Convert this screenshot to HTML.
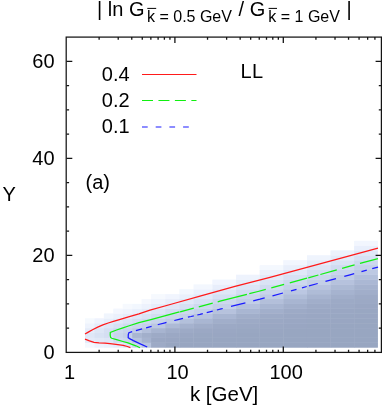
<!DOCTYPE html>
<html lang="en">
<head>
<meta charset="utf-8">
<title>| ln G ratio | contour map</title>
<style>
html, body { margin: 0; padding: 0; background: #ffffff; }
body { width: 382px; height: 406px; overflow: hidden; font-family: "Liberation Sans", sans-serif; }
svg { display: block; }
</style>
</head>
<body>
<svg width="382" height="406" viewBox="0 0 382 406" role="img" aria-label="Contour and heat map of | ln G ratio | in the (k, Y) plane">
<defs><filter id="gs" x="0" y="0" width="382" height="406" filterUnits="userSpaceOnUse"><feOffset dx="0" dy="0"/></filter></defs>
<rect width="382" height="406" fill="#fff"/>
<g id="heat-under" opacity="0.75">
<rect x="85.00" y="342.70" width="10.25" height="4.85" fill="rgb(244,248,254)"/>
<rect x="85.00" y="337.85" width="10.25" height="5.65" fill="rgb(227,234,249)"/>
<rect x="85.00" y="333.00" width="10.25" height="5.65" fill="rgb(223,231,247)"/>
<rect x="85.00" y="328.15" width="10.25" height="5.65" fill="rgb(229,236,250)"/>
<rect x="85.00" y="323.30" width="10.25" height="5.65" fill="rgb(238,243,253)"/>
<rect x="85.00" y="318.45" width="10.25" height="5.65" fill="rgb(245,249,254)"/>
<rect x="94.45" y="342.70" width="10.25" height="4.85" fill="rgb(237,242,253)"/>
<rect x="94.45" y="337.85" width="10.25" height="5.65" fill="rgb(224,232,247)"/>
<rect x="94.45" y="333.00" width="10.25" height="5.65" fill="rgb(216,226,244)"/>
<rect x="94.45" y="328.15" width="10.25" height="5.65" fill="rgb(221,230,246)"/>
<rect x="94.45" y="323.30" width="10.25" height="5.65" fill="rgb(229,236,250)"/>
<rect x="94.45" y="318.45" width="10.25" height="5.65" fill="rgb(238,243,253)"/>
<rect x="103.89" y="342.70" width="10.25" height="4.85" fill="rgb(234,240,252)"/>
<rect x="103.89" y="337.85" width="10.25" height="5.65" fill="rgb(221,230,247)"/>
<rect x="103.89" y="333.00" width="10.25" height="5.65" fill="rgb(212,222,242)"/>
<rect x="103.89" y="328.15" width="10.25" height="5.65" fill="rgb(213,223,243)"/>
<rect x="103.89" y="323.30" width="10.25" height="5.65" fill="rgb(222,231,247)"/>
<rect x="103.89" y="318.45" width="10.25" height="5.65" fill="rgb(231,238,251)"/>
<rect x="103.89" y="313.60" width="10.25" height="5.65" fill="rgb(240,245,253)"/>
<rect x="113.34" y="342.70" width="10.25" height="4.85" fill="rgb(229,236,250)"/>
<rect x="113.34" y="337.85" width="10.25" height="5.65" fill="rgb(207,218,239)"/>
<rect x="113.34" y="333.00" width="10.25" height="5.65" fill="rgb(201,213,236)"/>
<rect x="113.34" y="328.15" width="10.25" height="5.65" fill="rgb(205,216,238)"/>
<rect x="113.34" y="323.30" width="10.25" height="5.65" fill="rgb(215,225,244)"/>
<rect x="113.34" y="318.45" width="10.25" height="5.65" fill="rgb(226,233,248)"/>
<rect x="113.34" y="313.60" width="10.25" height="5.65" fill="rgb(235,241,252)"/>
<rect x="113.34" y="308.75" width="10.25" height="5.65" fill="rgb(243,247,254)"/>
<rect x="122.79" y="342.70" width="10.25" height="4.85" fill="rgb(220,229,246)"/>
<rect x="122.79" y="337.85" width="10.25" height="5.65" fill="rgb(202,214,236)"/>
<rect x="122.79" y="333.00" width="10.25" height="5.65" fill="rgb(195,207,231)"/>
<rect x="122.79" y="328.15" width="10.25" height="5.65" fill="rgb(200,211,235)"/>
<rect x="122.79" y="323.30" width="10.25" height="5.65" fill="rgb(208,219,240)"/>
<rect x="122.79" y="318.45" width="10.25" height="5.65" fill="rgb(219,228,246)"/>
<rect x="122.79" y="313.60" width="10.25" height="5.65" fill="rgb(230,237,250)"/>
<rect x="122.79" y="308.75" width="10.25" height="5.65" fill="rgb(239,244,253)"/>
<rect x="122.79" y="303.90" width="10.25" height="5.65" fill="rgb(246,249,254)"/>
<rect x="132.23" y="342.70" width="10.25" height="4.85" fill="rgb(202,214,236)"/>
<rect x="132.23" y="337.85" width="10.25" height="5.65" fill="rgb(182,194,221)"/>
<rect x="132.23" y="333.00" width="10.25" height="5.65" fill="rgb(169,182,210)"/>
<rect x="132.23" y="328.15" width="10.25" height="5.65" fill="rgb(191,203,229)"/>
<rect x="132.23" y="323.30" width="10.25" height="5.65" fill="rgb(202,213,236)"/>
<rect x="132.23" y="318.45" width="10.25" height="5.65" fill="rgb(212,223,242)"/>
<rect x="132.23" y="313.60" width="10.25" height="5.65" fill="rgb(224,232,248)"/>
<rect x="132.23" y="308.75" width="10.25" height="5.65" fill="rgb(233,240,252)"/>
<rect x="132.23" y="303.90" width="10.25" height="5.65" fill="rgb(242,247,254)"/>
<rect x="141.68" y="342.70" width="10.25" height="4.85" fill="rgb(185,197,223)"/>
<rect x="141.68" y="337.85" width="10.25" height="5.65" fill="rgb(166,179,207)"/>
<rect x="141.68" y="333.00" width="10.25" height="5.65" fill="rgb(162,175,203)"/>
<rect x="141.68" y="328.15" width="10.25" height="5.65" fill="rgb(179,191,218)"/>
<rect x="141.68" y="323.30" width="10.25" height="5.65" fill="rgb(197,209,233)"/>
<rect x="141.68" y="318.45" width="10.25" height="5.65" fill="rgb(206,217,239)"/>
<rect x="141.68" y="313.60" width="10.25" height="5.65" fill="rgb(217,227,245)"/>
<rect x="141.68" y="308.75" width="10.25" height="5.65" fill="rgb(228,235,249)"/>
<rect x="141.68" y="303.90" width="10.25" height="5.65" fill="rgb(237,242,253)"/>
<rect x="141.68" y="299.05" width="10.25" height="5.65" fill="rgb(245,248,254)"/>
<rect x="151.12" y="342.70" width="14.97" height="4.85" fill="rgb(157,170,198)"/>
<rect x="151.12" y="337.85" width="14.97" height="5.65" fill="rgb(154,167,195)"/>
<rect x="151.12" y="333.00" width="14.97" height="5.65" fill="rgb(157,170,198)"/>
<rect x="151.12" y="328.15" width="14.97" height="5.65" fill="rgb(167,180,208)"/>
<rect x="151.12" y="323.30" width="14.97" height="5.65" fill="rgb(187,199,225)"/>
<rect x="151.12" y="318.45" width="14.97" height="5.65" fill="rgb(200,212,235)"/>
<rect x="151.12" y="313.60" width="14.97" height="5.65" fill="rgb(210,221,241)"/>
<rect x="151.12" y="308.75" width="14.97" height="5.65" fill="rgb(221,229,246)"/>
<rect x="151.12" y="303.90" width="14.97" height="5.65" fill="rgb(230,237,250)"/>
<rect x="151.12" y="299.05" width="14.97" height="5.65" fill="rgb(239,244,253)"/>
<rect x="151.12" y="294.20" width="14.97" height="5.65" fill="rgb(246,249,254)"/>
<rect x="165.29" y="342.70" width="14.97" height="4.85" fill="rgb(152,166,193)"/>
<rect x="165.29" y="337.85" width="14.97" height="5.65" fill="rgb(153,166,194)"/>
<rect x="165.29" y="333.00" width="14.97" height="5.65" fill="rgb(155,168,196)"/>
<rect x="165.29" y="328.15" width="14.97" height="5.65" fill="rgb(160,173,201)"/>
<rect x="165.29" y="323.30" width="14.97" height="5.65" fill="rgb(173,186,213)"/>
<rect x="165.29" y="318.45" width="14.97" height="5.65" fill="rgb(193,205,230)"/>
<rect x="165.29" y="313.60" width="14.97" height="5.65" fill="rgb(202,214,236)"/>
<rect x="165.29" y="308.75" width="14.97" height="5.65" fill="rgb(212,222,242)"/>
<rect x="165.29" y="303.90" width="14.97" height="5.65" fill="rgb(223,231,247)"/>
<rect x="165.29" y="299.05" width="14.97" height="5.65" fill="rgb(232,238,251)"/>
<rect x="165.29" y="294.20" width="14.97" height="5.65" fill="rgb(241,245,254)"/>
<rect x="179.46" y="342.70" width="14.97" height="4.85" fill="rgb(152,166,193)"/>
<rect x="179.46" y="337.85" width="14.97" height="5.65" fill="rgb(152,166,193)"/>
<rect x="179.46" y="333.00" width="14.97" height="5.65" fill="rgb(154,167,195)"/>
<rect x="179.46" y="328.15" width="14.97" height="5.65" fill="rgb(157,170,198)"/>
<rect x="179.46" y="323.30" width="14.97" height="5.65" fill="rgb(165,178,206)"/>
<rect x="179.46" y="318.45" width="14.97" height="5.65" fill="rgb(179,192,219)"/>
<rect x="179.46" y="313.60" width="14.97" height="5.65" fill="rgb(196,208,232)"/>
<rect x="179.46" y="308.75" width="14.97" height="5.65" fill="rgb(204,215,238)"/>
<rect x="179.46" y="303.90" width="14.97" height="5.65" fill="rgb(214,224,244)"/>
<rect x="179.46" y="299.05" width="14.97" height="5.65" fill="rgb(224,232,248)"/>
<rect x="179.46" y="294.20" width="14.97" height="5.65" fill="rgb(233,240,252)"/>
<rect x="179.46" y="289.35" width="14.97" height="5.65" fill="rgb(242,247,254)"/>
<rect x="193.63" y="342.70" width="19.69" height="4.85" fill="rgb(152,166,193)"/>
<rect x="193.63" y="337.85" width="19.69" height="5.65" fill="rgb(152,166,193)"/>
<rect x="193.63" y="333.00" width="19.69" height="5.65" fill="rgb(153,167,194)"/>
<rect x="193.63" y="328.15" width="19.69" height="5.65" fill="rgb(155,168,196)"/>
<rect x="193.63" y="323.30" width="19.69" height="5.65" fill="rgb(160,173,201)"/>
<rect x="193.63" y="318.45" width="19.69" height="5.65" fill="rgb(169,182,210)"/>
<rect x="193.63" y="313.60" width="19.69" height="5.65" fill="rgb(183,195,222)"/>
<rect x="193.63" y="308.75" width="19.69" height="5.65" fill="rgb(197,209,233)"/>
<rect x="193.63" y="303.90" width="19.69" height="5.65" fill="rgb(205,216,238)"/>
<rect x="193.63" y="299.05" width="19.69" height="5.65" fill="rgb(215,225,244)"/>
<rect x="193.63" y="294.20" width="19.69" height="5.65" fill="rgb(225,233,248)"/>
<rect x="193.63" y="289.35" width="19.69" height="5.65" fill="rgb(234,240,252)"/>
<rect x="193.63" y="284.50" width="19.69" height="5.65" fill="rgb(243,247,254)"/>
<rect x="212.52" y="342.70" width="24.42" height="4.85" fill="rgb(152,166,193)"/>
<rect x="212.52" y="337.85" width="24.42" height="5.65" fill="rgb(152,166,193)"/>
<rect x="212.52" y="333.00" width="24.42" height="5.65" fill="rgb(153,166,194)"/>
<rect x="212.52" y="328.15" width="24.42" height="5.65" fill="rgb(154,167,195)"/>
<rect x="212.52" y="323.30" width="24.42" height="5.65" fill="rgb(156,169,197)"/>
<rect x="212.52" y="318.45" width="24.42" height="5.65" fill="rgb(161,174,202)"/>
<rect x="212.52" y="313.60" width="24.42" height="5.65" fill="rgb(169,182,210)"/>
<rect x="212.52" y="308.75" width="24.42" height="5.65" fill="rgb(182,194,221)"/>
<rect x="212.52" y="303.90" width="24.42" height="5.65" fill="rgb(196,208,232)"/>
<rect x="212.52" y="299.05" width="24.42" height="5.65" fill="rgb(204,215,237)"/>
<rect x="212.52" y="294.20" width="24.42" height="5.65" fill="rgb(213,224,243)"/>
<rect x="212.52" y="289.35" width="24.42" height="5.65" fill="rgb(223,231,247)"/>
<rect x="212.52" y="284.50" width="24.42" height="5.65" fill="rgb(232,238,251)"/>
<rect x="212.52" y="279.65" width="24.42" height="5.65" fill="rgb(241,245,254)"/>
<rect x="236.14" y="342.70" width="24.42" height="4.85" fill="rgb(152,166,193)"/>
<rect x="236.14" y="337.85" width="24.42" height="5.65" fill="rgb(152,166,193)"/>
<rect x="236.14" y="333.00" width="24.42" height="5.65" fill="rgb(152,166,193)"/>
<rect x="236.14" y="328.15" width="24.42" height="5.65" fill="rgb(153,167,194)"/>
<rect x="236.14" y="323.30" width="24.42" height="5.65" fill="rgb(155,168,196)"/>
<rect x="236.14" y="318.45" width="24.42" height="5.65" fill="rgb(157,170,198)"/>
<rect x="236.14" y="313.60" width="24.42" height="5.65" fill="rgb(161,174,202)"/>
<rect x="236.14" y="308.75" width="24.42" height="5.65" fill="rgb(169,182,210)"/>
<rect x="236.14" y="303.90" width="24.42" height="5.65" fill="rgb(181,193,220)"/>
<rect x="236.14" y="299.05" width="24.42" height="5.65" fill="rgb(194,206,231)"/>
<rect x="236.14" y="294.20" width="24.42" height="5.65" fill="rgb(202,213,236)"/>
<rect x="236.14" y="289.35" width="24.42" height="5.65" fill="rgb(211,221,242)"/>
<rect x="236.14" y="284.50" width="24.42" height="5.65" fill="rgb(220,229,246)"/>
<rect x="236.14" y="279.65" width="24.42" height="5.65" fill="rgb(229,236,250)"/>
<rect x="236.14" y="274.80" width="24.42" height="5.65" fill="rgb(238,243,253)"/>
<rect x="259.75" y="342.70" width="24.42" height="4.85" fill="rgb(152,166,193)"/>
<rect x="259.75" y="337.85" width="24.42" height="5.65" fill="rgb(152,166,193)"/>
<rect x="259.75" y="333.00" width="24.42" height="5.65" fill="rgb(152,166,193)"/>
<rect x="259.75" y="328.15" width="24.42" height="5.65" fill="rgb(153,166,194)"/>
<rect x="259.75" y="323.30" width="24.42" height="5.65" fill="rgb(154,167,195)"/>
<rect x="259.75" y="318.45" width="24.42" height="5.65" fill="rgb(155,168,196)"/>
<rect x="259.75" y="313.60" width="24.42" height="5.65" fill="rgb(157,170,198)"/>
<rect x="259.75" y="308.75" width="24.42" height="5.65" fill="rgb(162,175,203)"/>
<rect x="259.75" y="303.90" width="24.42" height="5.65" fill="rgb(169,182,210)"/>
<rect x="259.75" y="299.05" width="24.42" height="5.65" fill="rgb(179,191,218)"/>
<rect x="259.75" y="294.20" width="24.42" height="5.65" fill="rgb(191,203,229)"/>
<rect x="259.75" y="289.35" width="24.42" height="5.65" fill="rgb(200,212,235)"/>
<rect x="259.75" y="284.50" width="24.42" height="5.65" fill="rgb(208,219,240)"/>
<rect x="259.75" y="279.65" width="24.42" height="5.65" fill="rgb(218,227,245)"/>
<rect x="259.75" y="274.80" width="24.42" height="5.65" fill="rgb(227,234,249)"/>
<rect x="259.75" y="269.95" width="24.42" height="5.65" fill="rgb(236,241,252)"/>
<rect x="259.75" y="265.10" width="24.42" height="5.65" fill="rgb(244,248,254)"/>
<rect x="283.37" y="342.70" width="24.41" height="4.85" fill="rgb(152,166,193)"/>
<rect x="283.37" y="337.85" width="24.41" height="5.65" fill="rgb(152,166,193)"/>
<rect x="283.37" y="333.00" width="24.41" height="5.65" fill="rgb(152,166,193)"/>
<rect x="283.37" y="328.15" width="24.41" height="5.65" fill="rgb(152,166,193)"/>
<rect x="283.37" y="323.30" width="24.41" height="5.65" fill="rgb(153,166,194)"/>
<rect x="283.37" y="318.45" width="24.41" height="5.65" fill="rgb(154,167,195)"/>
<rect x="283.37" y="313.60" width="24.41" height="5.65" fill="rgb(155,168,196)"/>
<rect x="283.37" y="308.75" width="24.41" height="5.65" fill="rgb(157,170,198)"/>
<rect x="283.37" y="303.90" width="24.41" height="5.65" fill="rgb(162,175,203)"/>
<rect x="283.37" y="299.05" width="24.41" height="5.65" fill="rgb(168,181,209)"/>
<rect x="283.37" y="294.20" width="24.41" height="5.65" fill="rgb(177,190,217)"/>
<rect x="283.37" y="289.35" width="24.41" height="5.65" fill="rgb(187,199,226)"/>
<rect x="283.37" y="284.50" width="24.41" height="5.65" fill="rgb(197,209,233)"/>
<rect x="283.37" y="279.65" width="24.41" height="5.65" fill="rgb(205,216,238)"/>
<rect x="283.37" y="274.80" width="24.41" height="5.65" fill="rgb(215,225,244)"/>
<rect x="283.37" y="269.95" width="24.41" height="5.65" fill="rgb(224,232,248)"/>
<rect x="283.37" y="265.10" width="24.41" height="5.65" fill="rgb(233,239,251)"/>
<rect x="283.37" y="260.25" width="24.41" height="5.65" fill="rgb(242,246,254)"/>
<rect x="306.98" y="342.70" width="24.42" height="4.85" fill="rgb(152,166,193)"/>
<rect x="306.98" y="337.85" width="24.42" height="5.65" fill="rgb(152,166,193)"/>
<rect x="306.98" y="333.00" width="24.42" height="5.65" fill="rgb(152,166,193)"/>
<rect x="306.98" y="328.15" width="24.42" height="5.65" fill="rgb(152,166,193)"/>
<rect x="306.98" y="323.30" width="24.42" height="5.65" fill="rgb(152,166,193)"/>
<rect x="306.98" y="318.45" width="24.42" height="5.65" fill="rgb(153,167,194)"/>
<rect x="306.98" y="313.60" width="24.42" height="5.65" fill="rgb(154,167,195)"/>
<rect x="306.98" y="308.75" width="24.42" height="5.65" fill="rgb(155,168,196)"/>
<rect x="306.98" y="303.90" width="24.42" height="5.65" fill="rgb(157,170,198)"/>
<rect x="306.98" y="299.05" width="24.42" height="5.65" fill="rgb(161,174,202)"/>
<rect x="306.98" y="294.20" width="24.42" height="5.65" fill="rgb(167,180,208)"/>
<rect x="306.98" y="289.35" width="24.42" height="5.65" fill="rgb(175,188,215)"/>
<rect x="306.98" y="284.50" width="24.42" height="5.65" fill="rgb(184,196,223)"/>
<rect x="306.98" y="279.65" width="24.42" height="5.65" fill="rgb(195,207,231)"/>
<rect x="306.98" y="274.80" width="24.42" height="5.65" fill="rgb(203,214,237)"/>
<rect x="306.98" y="269.95" width="24.42" height="5.65" fill="rgb(212,222,242)"/>
<rect x="306.98" y="265.10" width="24.42" height="5.65" fill="rgb(221,230,246)"/>
<rect x="306.98" y="260.25" width="24.42" height="5.65" fill="rgb(230,237,250)"/>
<rect x="306.98" y="255.40" width="24.42" height="5.65" fill="rgb(239,244,253)"/>
<rect x="330.60" y="342.70" width="24.42" height="4.85" fill="rgb(152,166,193)"/>
<rect x="330.60" y="337.85" width="24.42" height="5.65" fill="rgb(152,166,193)"/>
<rect x="330.60" y="333.00" width="24.42" height="5.65" fill="rgb(152,166,193)"/>
<rect x="330.60" y="328.15" width="24.42" height="5.65" fill="rgb(152,166,193)"/>
<rect x="330.60" y="323.30" width="24.42" height="5.65" fill="rgb(152,166,193)"/>
<rect x="330.60" y="318.45" width="24.42" height="5.65" fill="rgb(153,166,194)"/>
<rect x="330.60" y="313.60" width="24.42" height="5.65" fill="rgb(153,167,194)"/>
<rect x="330.60" y="308.75" width="24.42" height="5.65" fill="rgb(154,167,195)"/>
<rect x="330.60" y="303.90" width="24.42" height="5.65" fill="rgb(156,169,197)"/>
<rect x="330.60" y="299.05" width="24.42" height="5.65" fill="rgb(157,170,198)"/>
<rect x="330.60" y="294.20" width="24.42" height="5.65" fill="rgb(161,174,202)"/>
<rect x="330.60" y="289.35" width="24.42" height="5.65" fill="rgb(166,179,207)"/>
<rect x="330.60" y="284.50" width="24.42" height="5.65" fill="rgb(173,186,213)"/>
<rect x="330.60" y="279.65" width="24.42" height="5.65" fill="rgb(182,194,221)"/>
<rect x="330.60" y="274.80" width="24.42" height="5.65" fill="rgb(192,204,229)"/>
<rect x="330.60" y="269.95" width="24.42" height="5.65" fill="rgb(200,212,235)"/>
<rect x="330.60" y="265.10" width="24.42" height="5.65" fill="rgb(208,219,240)"/>
<rect x="330.60" y="260.25" width="24.42" height="5.65" fill="rgb(218,227,245)"/>
<rect x="330.60" y="255.40" width="24.42" height="5.65" fill="rgb(227,235,249)"/>
<rect x="330.60" y="250.55" width="24.42" height="5.65" fill="rgb(236,242,252)"/>
<rect x="354.21" y="342.70" width="23.62" height="4.85" fill="rgb(152,166,193)"/>
<rect x="354.21" y="337.85" width="23.62" height="5.65" fill="rgb(152,166,193)"/>
<rect x="354.21" y="333.00" width="23.62" height="5.65" fill="rgb(152,166,193)"/>
<rect x="354.21" y="328.15" width="23.62" height="5.65" fill="rgb(152,166,193)"/>
<rect x="354.21" y="323.30" width="23.62" height="5.65" fill="rgb(152,166,193)"/>
<rect x="354.21" y="318.45" width="23.62" height="5.65" fill="rgb(152,166,193)"/>
<rect x="354.21" y="313.60" width="23.62" height="5.65" fill="rgb(153,166,194)"/>
<rect x="354.21" y="308.75" width="23.62" height="5.65" fill="rgb(153,167,194)"/>
<rect x="354.21" y="303.90" width="23.62" height="5.65" fill="rgb(154,167,195)"/>
<rect x="354.21" y="299.05" width="23.62" height="5.65" fill="rgb(156,169,197)"/>
<rect x="354.21" y="294.20" width="23.62" height="5.65" fill="rgb(157,170,198)"/>
<rect x="354.21" y="289.35" width="23.62" height="5.65" fill="rgb(161,174,202)"/>
<rect x="354.21" y="284.50" width="23.62" height="5.65" fill="rgb(165,178,206)"/>
<rect x="354.21" y="279.65" width="23.62" height="5.65" fill="rgb(171,184,212)"/>
<rect x="354.21" y="274.80" width="23.62" height="5.65" fill="rgb(179,192,219)"/>
<rect x="354.21" y="269.95" width="23.62" height="5.65" fill="rgb(189,201,227)"/>
<rect x="354.21" y="265.10" width="23.62" height="5.65" fill="rgb(197,209,233)"/>
<rect x="354.21" y="260.25" width="23.62" height="5.65" fill="rgb(205,216,238)"/>
<rect x="354.21" y="255.40" width="23.62" height="5.65" fill="rgb(215,225,244)"/>
<rect x="354.21" y="250.55" width="23.62" height="5.65" fill="rgb(224,232,248)"/>
<rect x="354.21" y="245.70" width="23.62" height="5.65" fill="rgb(233,239,252)"/>
<rect x="354.21" y="240.85" width="23.62" height="5.65" fill="rgb(242,246,254)"/>
</g>
<g id="heat">
<rect x="85.00" y="342.70" width="9.45" height="4.85" fill="rgb(244,248,254)"/>
<rect x="85.00" y="337.85" width="9.45" height="4.85" fill="rgb(227,234,249)"/>
<rect x="85.00" y="333.00" width="9.45" height="4.85" fill="rgb(223,231,247)"/>
<rect x="85.00" y="328.15" width="9.45" height="4.85" fill="rgb(229,236,250)"/>
<rect x="85.00" y="323.30" width="9.45" height="4.85" fill="rgb(238,243,253)"/>
<rect x="85.00" y="318.45" width="9.45" height="4.85" fill="rgb(245,249,254)"/>
<rect x="94.45" y="342.70" width="9.45" height="4.85" fill="rgb(237,242,253)"/>
<rect x="94.45" y="337.85" width="9.45" height="4.85" fill="rgb(224,232,247)"/>
<rect x="94.45" y="333.00" width="9.45" height="4.85" fill="rgb(216,226,244)"/>
<rect x="94.45" y="328.15" width="9.45" height="4.85" fill="rgb(221,230,246)"/>
<rect x="94.45" y="323.30" width="9.45" height="4.85" fill="rgb(229,236,250)"/>
<rect x="94.45" y="318.45" width="9.45" height="4.85" fill="rgb(238,243,253)"/>
<rect x="103.89" y="342.70" width="9.45" height="4.85" fill="rgb(234,240,252)"/>
<rect x="103.89" y="337.85" width="9.45" height="4.85" fill="rgb(221,230,247)"/>
<rect x="103.89" y="333.00" width="9.45" height="4.85" fill="rgb(212,222,242)"/>
<rect x="103.89" y="328.15" width="9.45" height="4.85" fill="rgb(213,223,243)"/>
<rect x="103.89" y="323.30" width="9.45" height="4.85" fill="rgb(222,231,247)"/>
<rect x="103.89" y="318.45" width="9.45" height="4.85" fill="rgb(231,238,251)"/>
<rect x="103.89" y="313.60" width="9.45" height="4.85" fill="rgb(240,245,253)"/>
<rect x="113.34" y="342.70" width="9.45" height="4.85" fill="rgb(229,236,250)"/>
<rect x="113.34" y="337.85" width="9.45" height="4.85" fill="rgb(207,218,239)"/>
<rect x="113.34" y="333.00" width="9.45" height="4.85" fill="rgb(201,213,236)"/>
<rect x="113.34" y="328.15" width="9.45" height="4.85" fill="rgb(205,216,238)"/>
<rect x="113.34" y="323.30" width="9.45" height="4.85" fill="rgb(215,225,244)"/>
<rect x="113.34" y="318.45" width="9.45" height="4.85" fill="rgb(226,233,248)"/>
<rect x="113.34" y="313.60" width="9.45" height="4.85" fill="rgb(235,241,252)"/>
<rect x="113.34" y="308.75" width="9.45" height="4.85" fill="rgb(243,247,254)"/>
<rect x="122.79" y="342.70" width="9.45" height="4.85" fill="rgb(220,229,246)"/>
<rect x="122.79" y="337.85" width="9.45" height="4.85" fill="rgb(202,214,236)"/>
<rect x="122.79" y="333.00" width="9.45" height="4.85" fill="rgb(195,207,231)"/>
<rect x="122.79" y="328.15" width="9.45" height="4.85" fill="rgb(200,211,235)"/>
<rect x="122.79" y="323.30" width="9.45" height="4.85" fill="rgb(208,219,240)"/>
<rect x="122.79" y="318.45" width="9.45" height="4.85" fill="rgb(219,228,246)"/>
<rect x="122.79" y="313.60" width="9.45" height="4.85" fill="rgb(230,237,250)"/>
<rect x="122.79" y="308.75" width="9.45" height="4.85" fill="rgb(239,244,253)"/>
<rect x="122.79" y="303.90" width="9.45" height="4.85" fill="rgb(246,249,254)"/>
<rect x="132.23" y="342.70" width="9.45" height="4.85" fill="rgb(202,214,236)"/>
<rect x="132.23" y="337.85" width="9.45" height="4.85" fill="rgb(182,194,221)"/>
<rect x="132.23" y="333.00" width="9.45" height="4.85" fill="rgb(169,182,210)"/>
<rect x="132.23" y="328.15" width="9.45" height="4.85" fill="rgb(191,203,229)"/>
<rect x="132.23" y="323.30" width="9.45" height="4.85" fill="rgb(202,213,236)"/>
<rect x="132.23" y="318.45" width="9.45" height="4.85" fill="rgb(212,223,242)"/>
<rect x="132.23" y="313.60" width="9.45" height="4.85" fill="rgb(224,232,248)"/>
<rect x="132.23" y="308.75" width="9.45" height="4.85" fill="rgb(233,240,252)"/>
<rect x="132.23" y="303.90" width="9.45" height="4.85" fill="rgb(242,247,254)"/>
<rect x="141.68" y="342.70" width="9.45" height="4.85" fill="rgb(185,197,223)"/>
<rect x="141.68" y="337.85" width="9.45" height="4.85" fill="rgb(166,179,207)"/>
<rect x="141.68" y="333.00" width="9.45" height="4.85" fill="rgb(162,175,203)"/>
<rect x="141.68" y="328.15" width="9.45" height="4.85" fill="rgb(179,191,218)"/>
<rect x="141.68" y="323.30" width="9.45" height="4.85" fill="rgb(197,209,233)"/>
<rect x="141.68" y="318.45" width="9.45" height="4.85" fill="rgb(206,217,239)"/>
<rect x="141.68" y="313.60" width="9.45" height="4.85" fill="rgb(217,227,245)"/>
<rect x="141.68" y="308.75" width="9.45" height="4.85" fill="rgb(228,235,249)"/>
<rect x="141.68" y="303.90" width="9.45" height="4.85" fill="rgb(237,242,253)"/>
<rect x="141.68" y="299.05" width="9.45" height="4.85" fill="rgb(245,248,254)"/>
<rect x="151.12" y="342.70" width="14.17" height="4.85" fill="rgb(157,170,198)"/>
<rect x="151.12" y="337.85" width="14.17" height="4.85" fill="rgb(154,167,195)"/>
<rect x="151.12" y="333.00" width="14.17" height="4.85" fill="rgb(157,170,198)"/>
<rect x="151.12" y="328.15" width="14.17" height="4.85" fill="rgb(167,180,208)"/>
<rect x="151.12" y="323.30" width="14.17" height="4.85" fill="rgb(187,199,225)"/>
<rect x="151.12" y="318.45" width="14.17" height="4.85" fill="rgb(200,212,235)"/>
<rect x="151.12" y="313.60" width="14.17" height="4.85" fill="rgb(210,221,241)"/>
<rect x="151.12" y="308.75" width="14.17" height="4.85" fill="rgb(221,229,246)"/>
<rect x="151.12" y="303.90" width="14.17" height="4.85" fill="rgb(230,237,250)"/>
<rect x="151.12" y="299.05" width="14.17" height="4.85" fill="rgb(239,244,253)"/>
<rect x="151.12" y="294.20" width="14.17" height="4.85" fill="rgb(246,249,254)"/>
<rect x="165.29" y="342.70" width="14.17" height="4.85" fill="rgb(152,166,193)"/>
<rect x="165.29" y="337.85" width="14.17" height="4.85" fill="rgb(153,166,194)"/>
<rect x="165.29" y="333.00" width="14.17" height="4.85" fill="rgb(155,168,196)"/>
<rect x="165.29" y="328.15" width="14.17" height="4.85" fill="rgb(160,173,201)"/>
<rect x="165.29" y="323.30" width="14.17" height="4.85" fill="rgb(173,186,213)"/>
<rect x="165.29" y="318.45" width="14.17" height="4.85" fill="rgb(193,205,230)"/>
<rect x="165.29" y="313.60" width="14.17" height="4.85" fill="rgb(202,214,236)"/>
<rect x="165.29" y="308.75" width="14.17" height="4.85" fill="rgb(212,222,242)"/>
<rect x="165.29" y="303.90" width="14.17" height="4.85" fill="rgb(223,231,247)"/>
<rect x="165.29" y="299.05" width="14.17" height="4.85" fill="rgb(232,238,251)"/>
<rect x="165.29" y="294.20" width="14.17" height="4.85" fill="rgb(241,245,254)"/>
<rect x="179.46" y="342.70" width="14.17" height="4.85" fill="rgb(152,166,193)"/>
<rect x="179.46" y="337.85" width="14.17" height="4.85" fill="rgb(152,166,193)"/>
<rect x="179.46" y="333.00" width="14.17" height="4.85" fill="rgb(154,167,195)"/>
<rect x="179.46" y="328.15" width="14.17" height="4.85" fill="rgb(157,170,198)"/>
<rect x="179.46" y="323.30" width="14.17" height="4.85" fill="rgb(165,178,206)"/>
<rect x="179.46" y="318.45" width="14.17" height="4.85" fill="rgb(179,192,219)"/>
<rect x="179.46" y="313.60" width="14.17" height="4.85" fill="rgb(196,208,232)"/>
<rect x="179.46" y="308.75" width="14.17" height="4.85" fill="rgb(204,215,238)"/>
<rect x="179.46" y="303.90" width="14.17" height="4.85" fill="rgb(214,224,244)"/>
<rect x="179.46" y="299.05" width="14.17" height="4.85" fill="rgb(224,232,248)"/>
<rect x="179.46" y="294.20" width="14.17" height="4.85" fill="rgb(233,240,252)"/>
<rect x="179.46" y="289.35" width="14.17" height="4.85" fill="rgb(242,247,254)"/>
<rect x="193.63" y="342.70" width="18.89" height="4.85" fill="rgb(152,166,193)"/>
<rect x="193.63" y="337.85" width="18.89" height="4.85" fill="rgb(152,166,193)"/>
<rect x="193.63" y="333.00" width="18.89" height="4.85" fill="rgb(153,167,194)"/>
<rect x="193.63" y="328.15" width="18.89" height="4.85" fill="rgb(155,168,196)"/>
<rect x="193.63" y="323.30" width="18.89" height="4.85" fill="rgb(160,173,201)"/>
<rect x="193.63" y="318.45" width="18.89" height="4.85" fill="rgb(169,182,210)"/>
<rect x="193.63" y="313.60" width="18.89" height="4.85" fill="rgb(183,195,222)"/>
<rect x="193.63" y="308.75" width="18.89" height="4.85" fill="rgb(197,209,233)"/>
<rect x="193.63" y="303.90" width="18.89" height="4.85" fill="rgb(205,216,238)"/>
<rect x="193.63" y="299.05" width="18.89" height="4.85" fill="rgb(215,225,244)"/>
<rect x="193.63" y="294.20" width="18.89" height="4.85" fill="rgb(225,233,248)"/>
<rect x="193.63" y="289.35" width="18.89" height="4.85" fill="rgb(234,240,252)"/>
<rect x="193.63" y="284.50" width="18.89" height="4.85" fill="rgb(243,247,254)"/>
<rect x="212.52" y="342.70" width="23.62" height="4.85" fill="rgb(152,166,193)"/>
<rect x="212.52" y="337.85" width="23.62" height="4.85" fill="rgb(152,166,193)"/>
<rect x="212.52" y="333.00" width="23.62" height="4.85" fill="rgb(153,166,194)"/>
<rect x="212.52" y="328.15" width="23.62" height="4.85" fill="rgb(154,167,195)"/>
<rect x="212.52" y="323.30" width="23.62" height="4.85" fill="rgb(156,169,197)"/>
<rect x="212.52" y="318.45" width="23.62" height="4.85" fill="rgb(161,174,202)"/>
<rect x="212.52" y="313.60" width="23.62" height="4.85" fill="rgb(169,182,210)"/>
<rect x="212.52" y="308.75" width="23.62" height="4.85" fill="rgb(182,194,221)"/>
<rect x="212.52" y="303.90" width="23.62" height="4.85" fill="rgb(196,208,232)"/>
<rect x="212.52" y="299.05" width="23.62" height="4.85" fill="rgb(204,215,237)"/>
<rect x="212.52" y="294.20" width="23.62" height="4.85" fill="rgb(213,224,243)"/>
<rect x="212.52" y="289.35" width="23.62" height="4.85" fill="rgb(223,231,247)"/>
<rect x="212.52" y="284.50" width="23.62" height="4.85" fill="rgb(232,238,251)"/>
<rect x="212.52" y="279.65" width="23.62" height="4.85" fill="rgb(241,245,254)"/>
<rect x="236.14" y="342.70" width="23.62" height="4.85" fill="rgb(152,166,193)"/>
<rect x="236.14" y="337.85" width="23.62" height="4.85" fill="rgb(152,166,193)"/>
<rect x="236.14" y="333.00" width="23.62" height="4.85" fill="rgb(152,166,193)"/>
<rect x="236.14" y="328.15" width="23.62" height="4.85" fill="rgb(153,167,194)"/>
<rect x="236.14" y="323.30" width="23.62" height="4.85" fill="rgb(155,168,196)"/>
<rect x="236.14" y="318.45" width="23.62" height="4.85" fill="rgb(157,170,198)"/>
<rect x="236.14" y="313.60" width="23.62" height="4.85" fill="rgb(161,174,202)"/>
<rect x="236.14" y="308.75" width="23.62" height="4.85" fill="rgb(169,182,210)"/>
<rect x="236.14" y="303.90" width="23.62" height="4.85" fill="rgb(181,193,220)"/>
<rect x="236.14" y="299.05" width="23.62" height="4.85" fill="rgb(194,206,231)"/>
<rect x="236.14" y="294.20" width="23.62" height="4.85" fill="rgb(202,213,236)"/>
<rect x="236.14" y="289.35" width="23.62" height="4.85" fill="rgb(211,221,242)"/>
<rect x="236.14" y="284.50" width="23.62" height="4.85" fill="rgb(220,229,246)"/>
<rect x="236.14" y="279.65" width="23.62" height="4.85" fill="rgb(229,236,250)"/>
<rect x="236.14" y="274.80" width="23.62" height="4.85" fill="rgb(238,243,253)"/>
<rect x="259.75" y="342.70" width="23.62" height="4.85" fill="rgb(152,166,193)"/>
<rect x="259.75" y="337.85" width="23.62" height="4.85" fill="rgb(152,166,193)"/>
<rect x="259.75" y="333.00" width="23.62" height="4.85" fill="rgb(152,166,193)"/>
<rect x="259.75" y="328.15" width="23.62" height="4.85" fill="rgb(153,166,194)"/>
<rect x="259.75" y="323.30" width="23.62" height="4.85" fill="rgb(154,167,195)"/>
<rect x="259.75" y="318.45" width="23.62" height="4.85" fill="rgb(155,168,196)"/>
<rect x="259.75" y="313.60" width="23.62" height="4.85" fill="rgb(157,170,198)"/>
<rect x="259.75" y="308.75" width="23.62" height="4.85" fill="rgb(162,175,203)"/>
<rect x="259.75" y="303.90" width="23.62" height="4.85" fill="rgb(169,182,210)"/>
<rect x="259.75" y="299.05" width="23.62" height="4.85" fill="rgb(179,191,218)"/>
<rect x="259.75" y="294.20" width="23.62" height="4.85" fill="rgb(191,203,229)"/>
<rect x="259.75" y="289.35" width="23.62" height="4.85" fill="rgb(200,212,235)"/>
<rect x="259.75" y="284.50" width="23.62" height="4.85" fill="rgb(208,219,240)"/>
<rect x="259.75" y="279.65" width="23.62" height="4.85" fill="rgb(218,227,245)"/>
<rect x="259.75" y="274.80" width="23.62" height="4.85" fill="rgb(227,234,249)"/>
<rect x="259.75" y="269.95" width="23.62" height="4.85" fill="rgb(236,241,252)"/>
<rect x="259.75" y="265.10" width="23.62" height="4.85" fill="rgb(244,248,254)"/>
<rect x="283.37" y="342.70" width="23.61" height="4.85" fill="rgb(152,166,193)"/>
<rect x="283.37" y="337.85" width="23.61" height="4.85" fill="rgb(152,166,193)"/>
<rect x="283.37" y="333.00" width="23.61" height="4.85" fill="rgb(152,166,193)"/>
<rect x="283.37" y="328.15" width="23.61" height="4.85" fill="rgb(152,166,193)"/>
<rect x="283.37" y="323.30" width="23.61" height="4.85" fill="rgb(153,166,194)"/>
<rect x="283.37" y="318.45" width="23.61" height="4.85" fill="rgb(154,167,195)"/>
<rect x="283.37" y="313.60" width="23.61" height="4.85" fill="rgb(155,168,196)"/>
<rect x="283.37" y="308.75" width="23.61" height="4.85" fill="rgb(157,170,198)"/>
<rect x="283.37" y="303.90" width="23.61" height="4.85" fill="rgb(162,175,203)"/>
<rect x="283.37" y="299.05" width="23.61" height="4.85" fill="rgb(168,181,209)"/>
<rect x="283.37" y="294.20" width="23.61" height="4.85" fill="rgb(177,190,217)"/>
<rect x="283.37" y="289.35" width="23.61" height="4.85" fill="rgb(187,199,226)"/>
<rect x="283.37" y="284.50" width="23.61" height="4.85" fill="rgb(197,209,233)"/>
<rect x="283.37" y="279.65" width="23.61" height="4.85" fill="rgb(205,216,238)"/>
<rect x="283.37" y="274.80" width="23.61" height="4.85" fill="rgb(215,225,244)"/>
<rect x="283.37" y="269.95" width="23.61" height="4.85" fill="rgb(224,232,248)"/>
<rect x="283.37" y="265.10" width="23.61" height="4.85" fill="rgb(233,239,251)"/>
<rect x="283.37" y="260.25" width="23.61" height="4.85" fill="rgb(242,246,254)"/>
<rect x="306.98" y="342.70" width="23.62" height="4.85" fill="rgb(152,166,193)"/>
<rect x="306.98" y="337.85" width="23.62" height="4.85" fill="rgb(152,166,193)"/>
<rect x="306.98" y="333.00" width="23.62" height="4.85" fill="rgb(152,166,193)"/>
<rect x="306.98" y="328.15" width="23.62" height="4.85" fill="rgb(152,166,193)"/>
<rect x="306.98" y="323.30" width="23.62" height="4.85" fill="rgb(152,166,193)"/>
<rect x="306.98" y="318.45" width="23.62" height="4.85" fill="rgb(153,167,194)"/>
<rect x="306.98" y="313.60" width="23.62" height="4.85" fill="rgb(154,167,195)"/>
<rect x="306.98" y="308.75" width="23.62" height="4.85" fill="rgb(155,168,196)"/>
<rect x="306.98" y="303.90" width="23.62" height="4.85" fill="rgb(157,170,198)"/>
<rect x="306.98" y="299.05" width="23.62" height="4.85" fill="rgb(161,174,202)"/>
<rect x="306.98" y="294.20" width="23.62" height="4.85" fill="rgb(167,180,208)"/>
<rect x="306.98" y="289.35" width="23.62" height="4.85" fill="rgb(175,188,215)"/>
<rect x="306.98" y="284.50" width="23.62" height="4.85" fill="rgb(184,196,223)"/>
<rect x="306.98" y="279.65" width="23.62" height="4.85" fill="rgb(195,207,231)"/>
<rect x="306.98" y="274.80" width="23.62" height="4.85" fill="rgb(203,214,237)"/>
<rect x="306.98" y="269.95" width="23.62" height="4.85" fill="rgb(212,222,242)"/>
<rect x="306.98" y="265.10" width="23.62" height="4.85" fill="rgb(221,230,246)"/>
<rect x="306.98" y="260.25" width="23.62" height="4.85" fill="rgb(230,237,250)"/>
<rect x="306.98" y="255.40" width="23.62" height="4.85" fill="rgb(239,244,253)"/>
<rect x="330.60" y="342.70" width="23.62" height="4.85" fill="rgb(152,166,193)"/>
<rect x="330.60" y="337.85" width="23.62" height="4.85" fill="rgb(152,166,193)"/>
<rect x="330.60" y="333.00" width="23.62" height="4.85" fill="rgb(152,166,193)"/>
<rect x="330.60" y="328.15" width="23.62" height="4.85" fill="rgb(152,166,193)"/>
<rect x="330.60" y="323.30" width="23.62" height="4.85" fill="rgb(152,166,193)"/>
<rect x="330.60" y="318.45" width="23.62" height="4.85" fill="rgb(153,166,194)"/>
<rect x="330.60" y="313.60" width="23.62" height="4.85" fill="rgb(153,167,194)"/>
<rect x="330.60" y="308.75" width="23.62" height="4.85" fill="rgb(154,167,195)"/>
<rect x="330.60" y="303.90" width="23.62" height="4.85" fill="rgb(156,169,197)"/>
<rect x="330.60" y="299.05" width="23.62" height="4.85" fill="rgb(157,170,198)"/>
<rect x="330.60" y="294.20" width="23.62" height="4.85" fill="rgb(161,174,202)"/>
<rect x="330.60" y="289.35" width="23.62" height="4.85" fill="rgb(166,179,207)"/>
<rect x="330.60" y="284.50" width="23.62" height="4.85" fill="rgb(173,186,213)"/>
<rect x="330.60" y="279.65" width="23.62" height="4.85" fill="rgb(182,194,221)"/>
<rect x="330.60" y="274.80" width="23.62" height="4.85" fill="rgb(192,204,229)"/>
<rect x="330.60" y="269.95" width="23.62" height="4.85" fill="rgb(200,212,235)"/>
<rect x="330.60" y="265.10" width="23.62" height="4.85" fill="rgb(208,219,240)"/>
<rect x="330.60" y="260.25" width="23.62" height="4.85" fill="rgb(218,227,245)"/>
<rect x="330.60" y="255.40" width="23.62" height="4.85" fill="rgb(227,235,249)"/>
<rect x="330.60" y="250.55" width="23.62" height="4.85" fill="rgb(236,242,252)"/>
<rect x="354.21" y="342.70" width="23.62" height="4.85" fill="rgb(152,166,193)"/>
<rect x="354.21" y="337.85" width="23.62" height="4.85" fill="rgb(152,166,193)"/>
<rect x="354.21" y="333.00" width="23.62" height="4.85" fill="rgb(152,166,193)"/>
<rect x="354.21" y="328.15" width="23.62" height="4.85" fill="rgb(152,166,193)"/>
<rect x="354.21" y="323.30" width="23.62" height="4.85" fill="rgb(152,166,193)"/>
<rect x="354.21" y="318.45" width="23.62" height="4.85" fill="rgb(152,166,193)"/>
<rect x="354.21" y="313.60" width="23.62" height="4.85" fill="rgb(153,166,194)"/>
<rect x="354.21" y="308.75" width="23.62" height="4.85" fill="rgb(153,167,194)"/>
<rect x="354.21" y="303.90" width="23.62" height="4.85" fill="rgb(154,167,195)"/>
<rect x="354.21" y="299.05" width="23.62" height="4.85" fill="rgb(156,169,197)"/>
<rect x="354.21" y="294.20" width="23.62" height="4.85" fill="rgb(157,170,198)"/>
<rect x="354.21" y="289.35" width="23.62" height="4.85" fill="rgb(161,174,202)"/>
<rect x="354.21" y="284.50" width="23.62" height="4.85" fill="rgb(165,178,206)"/>
<rect x="354.21" y="279.65" width="23.62" height="4.85" fill="rgb(171,184,212)"/>
<rect x="354.21" y="274.80" width="23.62" height="4.85" fill="rgb(179,192,219)"/>
<rect x="354.21" y="269.95" width="23.62" height="4.85" fill="rgb(189,201,227)"/>
<rect x="354.21" y="265.10" width="23.62" height="4.85" fill="rgb(197,209,233)"/>
<rect x="354.21" y="260.25" width="23.62" height="4.85" fill="rgb(205,216,238)"/>
<rect x="354.21" y="255.40" width="23.62" height="4.85" fill="rgb(215,225,244)"/>
<rect x="354.21" y="250.55" width="23.62" height="4.85" fill="rgb(224,232,248)"/>
<rect x="354.21" y="245.70" width="23.62" height="4.85" fill="rgb(233,239,252)"/>
<rect x="354.21" y="240.85" width="23.62" height="4.85" fill="rgb(242,246,254)"/>
</g>
<g fill="none" stroke-width="1.25" stroke-linecap="butt" stroke-linejoin="miter">
<path d="M85.0,334.0 L88.3,332.1 L92.5,329.7 L97.7,327.1 L102.9,324.9 L108.2,323.0 L113.4,321.4 L118.6,319.8 L128.5,316.9 L138.9,313.9 L150.0,310.2 L172.0,304.0 L200.0,296.1 L235.0,286.4 L270.0,277.3 L378.0,248.1" stroke="#ff1a1a"/>
<path d="M85.0,339.1 L89.5,340.8 L94.0,342.3 L99.0,342.8 L104.9,343.2 L110.0,343.7 L116.0,344.4 L123.2,345.3 L127.4,346.5 L130.4,347.7" stroke="#ff1a1a"/>
<path d="M140.0,347.7 L135.8,345.8 L130.6,343.9 L128.0,342.9 L122.9,341.5 L116.6,339.7 L111.7,338.3 L110.6,337.5 L110.2,335.0 L110.3,332.5 L116.6,330.0 L122.9,327.8 L128.5,326.0 L138.9,322.6 L150.0,319.9" stroke="#10f010"/>
<path d="M147.2,347.0 L139.7,343.6 L133.4,340.6 L129.6,338.6 L128.2,337.7 L128.3,334.6 L128.9,332.7 L132.2,331.6" stroke="#1a1aff"/>
<path d="M150.0,319.9 L172.0,313.9 L179.5,311.9" stroke="#10f010"/>
<path d="M180.1,311.8 L193.8,308.2" stroke="#10f010"/>
<path d="M198.8,306.9 L212.7,303.2" stroke="#10f010"/>
<path d="M217.7,301.8 L220.0,301.2 L246.9,294.3" stroke="#10f010"/>
<path d="M249.3,293.7 L258.0,291.5 L265.8,289.4" stroke="#10f010"/>
<path d="M271.3,287.9 L284.1,284.4" stroke="#10f010"/>
<path d="M289.8,282.9 L307.0,278.2" stroke="#10f010"/>
<path d="M308.3,277.8 L318.4,275.0" stroke="#10f010"/>
<path d="M320.3,274.5 L336.8,269.8" stroke="#10f010"/>
<path d="M342.1,268.3 L350.0,266.1 L354.6,264.9" stroke="#10f010"/>
<path d="M360.0,263.4 L378.0,258.6" stroke="#10f010"/>
<path d="M135.9,330.6 L142.1,328.9" stroke="#1a1aff"/>
<path d="M146.1,327.8 L151.6,326.3" stroke="#1a1aff"/>
<path d="M157.8,324.7 L158.4,324.5 L165.0,322.8 L166.5,322.4" stroke="#1a1aff"/>
<path d="M174.3,320.5 L178.0,319.6 L183.0,318.4" stroke="#1a1aff"/>
<path d="M187.9,317.2 L191.0,316.5 L193.8,315.8" stroke="#1a1aff"/>
<path d="M197.3,315.0 L200.0,314.4 L202.8,313.7" stroke="#1a1aff"/>
<path d="M206.7,312.7 L212.7,311.1" stroke="#1a1aff"/>
<path d="M216.9,310.0 L222.0,308.7 L222.7,308.5" stroke="#1a1aff"/>
<path d="M231.0,306.4 L245.4,302.8" stroke="#1a1aff"/>
<path d="M253.2,300.9 L260.0,299.2 L264.7,297.9" stroke="#1a1aff"/>
<path d="M272.5,295.8 L283.0,293.0" stroke="#1a1aff"/>
<path d="M291.0,290.8 L296.5,289.3" stroke="#1a1aff"/>
<path d="M302.0,287.8 L306.7,286.5" stroke="#1a1aff"/>
<path d="M309.0,285.9 L317.7,283.5" stroke="#1a1aff"/>
<path d="M325.5,281.4 L336.0,278.6" stroke="#1a1aff"/>
<path d="M344.3,276.3 L350.0,274.8 L354.2,273.6" stroke="#1a1aff"/>
<path d="M361.5,271.6 L366.8,270.2" stroke="#1a1aff"/>
<path d="M372.2,268.7 L378.0,267.1" stroke="#1a1aff"/>
<path d="M142.0,74.45 H196.5" stroke="#ff1a1a" stroke-width="1.1"/>
<path d="M142.0,100.5 H196.5" stroke="#10f010" stroke-width="1.1" stroke-dasharray="11 5.45"/>
<path d="M142.0,127.0 H196.8" stroke="#1a1aff" stroke-width="1.1" stroke-dasharray="5.7 8"/>
</g>
<g stroke="#141414" stroke-width="1.25" fill="none" stroke-linecap="butt">
<rect x="66.20" y="37.10" width="315.20" height="315.30"/>
<path d="M66.50,328.15 h2.6 M381.40,328.15 h-2.6 M66.50,303.90 h2.6 M381.40,303.90 h-2.6 M66.50,279.65 h2.6 M381.40,279.65 h-2.6 M66.50,255.40 h5.8 M381.40,255.40 h-5.8 M66.50,231.15 h2.6 M381.40,231.15 h-2.6 M66.50,206.90 h2.6 M381.40,206.90 h-2.6 M66.50,182.65 h2.6 M381.40,182.65 h-2.6 M66.50,158.40 h5.8 M381.40,158.40 h-5.8 M66.50,134.15 h2.6 M381.40,134.15 h-2.6 M66.50,109.90 h2.6 M381.40,109.90 h-2.6 M66.50,85.65 h2.6 M381.40,85.65 h-2.6 M66.50,61.40 h5.8 M381.40,61.40 h-5.8 M99.13,352.40 v-2.6 M99.13,37.10 v2.6 M118.22,352.40 v-2.6 M118.22,37.10 v2.6 M131.76,352.40 v-2.6 M131.76,37.10 v2.6 M142.27,352.40 v-2.6 M142.27,37.10 v2.6 M150.85,352.40 v-2.6 M150.85,37.10 v2.6 M158.11,352.40 v-2.6 M158.11,37.10 v2.6 M164.39,352.40 v-2.6 M164.39,37.10 v2.6 M169.94,352.40 v-2.6 M169.94,37.10 v2.6 M174.90,352.40 v-5.8 M174.90,37.10 v5.8 M207.53,352.40 v-2.6 M207.53,37.10 v2.6 M226.62,352.40 v-2.6 M226.62,37.10 v2.6 M240.16,352.40 v-2.6 M240.16,37.10 v2.6 M250.67,352.40 v-2.6 M250.67,37.10 v2.6 M259.25,352.40 v-2.6 M259.25,37.10 v2.6 M266.51,352.40 v-2.6 M266.51,37.10 v2.6 M272.79,352.40 v-2.6 M272.79,37.10 v2.6 M278.34,352.40 v-2.6 M278.34,37.10 v2.6 M283.30,352.40 v-5.8 M283.30,37.10 v5.8 M315.93,352.40 v-2.6 M315.93,37.10 v2.6 M335.02,352.40 v-2.6 M335.02,37.10 v2.6 M348.56,352.40 v-2.6 M348.56,37.10 v2.6 M359.07,352.40 v-2.6 M359.07,37.10 v2.6 M367.65,352.40 v-2.6 M367.65,37.10 v2.6 M374.91,352.40 v-2.6 M374.91,37.10 v2.6" stroke-width="1.3"/>
</g>
<g font-family="'Liberation Sans', sans-serif" font-size="20" fill="#000" filter="url(#gs)">
<text x="54.6" y="359.4" text-anchor="end">0</text>
<text x="54.6" y="262.4" text-anchor="end">20</text>
<text x="54.6" y="165.4" text-anchor="end">40</text>
<text x="54.6" y="68.4" text-anchor="end">60</text>
<text x="69.5" y="379.2" text-anchor="middle">1</text>
<text x="177.5" y="379.2" text-anchor="middle">10</text>
<text x="286.2" y="379.2" text-anchor="middle">100</text>
<text x="2.6" y="201.4">Y</text>
<text x="189.9" y="400.7" textLength="68.4" lengthAdjust="spacingAndGlyphs">k [GeV]</text>
<text x="85.5" y="189.3">(a)</text>
<text x="240.4" y="77.5" letter-spacing="0.5">LL</text>
<text x="101.8" y="80.5">0.4</text>
<text x="101.8" y="106.6">0.2</text>
<text x="101.8" y="132.7">0.1</text>
<text x="97.0" y="16.2">| ln G</text>
<text x="147.0" y="22.3" font-size="16">k = 0.5 GeV</text>
<text x="238.6" y="16.2">/ G</text>
<text x="268.3" y="22.3" font-size="16">k = 1 GeV</text>
<text x="346.6" y="16.2">|</text>
</g>
<path d="M147.3,8.4 H156.2 M268.6,8.4 H277.0" stroke="#000" stroke-width="1.0" fill="none"/>
</svg>
</body>
</html>
